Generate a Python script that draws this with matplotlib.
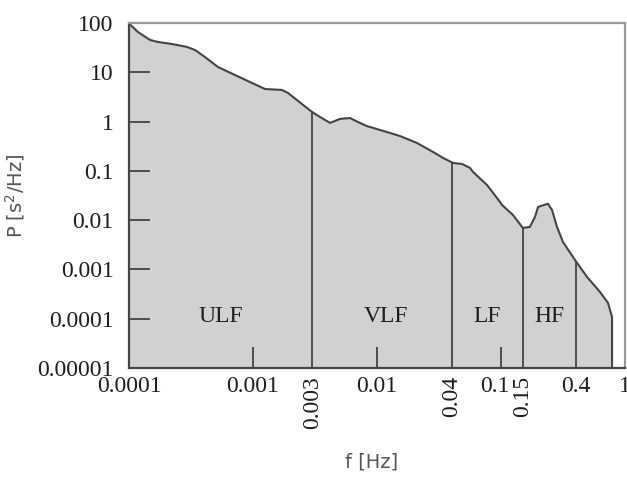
import numpy as np
import matplotlib.pyplot as plt
from matplotlib.transforms import ScaledTranslation

# spectrum (f in Hz, P in s^2/Hz)
freq = [1.0e-4, 1.18e-4, 1.48e-4, 1.71e-4, 2.22e-4, 2.94e-4, 3.41e-4, 4.10e-4,
        5.22e-4, 7.16e-4, 9.82e-4, 1.25e-3, 1.71e-3, 1.92e-3, 2.31e-3, 2.99e-3,
        3.47e-3, 4.18e-3, 5.03e-3, 6.05e-3, 7.03e-3, 8.30e-3, 1.20e-2, 1.53e-2,
        2.10e-2, 2.83e-2, 3.41e-2, 4.10e-2, 4.85e-2, 5.62e-2, 5.95e-2, 7.71e-2,
        9.82e-2, 0.102, 0.125, 0.150, 0.171, 0.188, 0.199, 0.218, 0.239, 0.258,
        0.283, 0.316, 0.395, 0.494, 0.628, 0.729, 0.786, 0.786]
power = [98, 65.7, 45.2, 41.2, 37.5, 32.6, 28.3, 20.4,
         12.8, 8.8, 6.07, 4.58, 4.38, 3.80, 2.62, 1.57,
         1.24, 0.94, 1.13, 1.18, 0.98, 0.81, 0.615, 0.51,
         0.368, 0.242, 0.183, 0.145, 0.138, 0.115, 0.095, 0.0518,
         0.0234, 0.0203, 0.0127, 0.00695, 0.00728, 0.0116, 0.0185, 0.0200, 0.0215, 0.0161,
         0.00728, 0.00361, 0.00156, 0.000705, 0.00035, 0.00021, 0.000109, 1e-5]

band_edges = [0.003, 0.04, 0.15, 0.4]
band_names = ["ULF", "VLF", "LF", "HF"]
band_label_f = [5.5e-4, 0.0118, 0.0771, 0.244]

yticks = [1e-5, 1e-4, 1e-3, 1e-2, 1e-1, 1, 10, 100]
ytick_labels = ["0.00001", "0.0001", "0.001", "0.01", "0.1", "1", "10", "100"]
xticks = [1e-4, 1e-3, 3e-3, 1e-2, 4e-2, 1e-1, 0.15, 0.4, 1]
xtick_labels = ["0.0001", "0.001", "0.003", "0.01", "0.04", "0.1", "0.15", "0.4", "1"]
rotated = [0.003, 0.04, 0.15]
with_mark = [1e-3, 1e-2, 1e-1]

serif = "Liberation Serif"
dark = "#444444"
txt = "#1e1e1e"

fig = plt.figure(figsize=(6.27, 4.78), dpi=100)
ax = fig.add_axes([0.2057, 0.2301, 0.7911, 0.7218])

ax.fill_between(freq, power, 1e-5, color="#d0d1d3", lw=0)
ax.plot(freq, power, color=dark, lw=1.5)

for fe in band_edges:
    pe = 10 ** np.interp(np.log10(fe), np.log10(freq[:-1]), np.log10(power[:-1]))
    ax.vlines(fe, 1e-5, pe, color=dark, lw=1.3)

for name, fx in zip(band_names, band_label_f):
    ax.text(fx, 1.1e-4, name, ha="center", va="center", family=serif,
            fontsize=17, color=txt)

ax.set_xscale("log")
ax.set_yscale("log")
ax.set_xlim(1e-4, 1)
ax.set_ylim(1e-5, 100)
ax.minorticks_off()

ax.set_yticks(yticks)
ax.set_yticklabels(ytick_labels, family=serif, fontsize=17, color=txt)
ax.tick_params(axis="y", direction="in", length=15, width=1.3, color=dark, pad=11)

ax.set_xticks(xticks)
ax.set_xticklabels(xtick_labels, family=serif, fontsize=17, color=txt)
ax.tick_params(axis="x", direction="in", length=15, width=1.3, color=dark, pad=6)
for val, tick in zip(xticks, ax.xaxis.get_major_ticks()):
    if val not in with_mark:
        tick.tick1line.set_visible(False)
    if val in rotated:
        tick.label1.set_rotation(90)
        tick.label1.set_va("top")
    if val == 1e-1:
        # nudge "0.1" left so it clears the rotated "0.15"
        lab = tick.label1
        lab.set_transform(lab.get_transform() + ScaledTranslation(-6 / 100, 0, fig.dpi_scale_trans))

for side in ["left", "bottom"]:
    ax.spines[side].set_color(dark)
    ax.spines[side].set_linewidth(1.6)
for side in ["top", "right"]:
    ax.spines[side].set_color("#9a9a9a")
    ax.spines[side].set_linewidth(1.6)

ax.set_xlabel("f [Hz]", fontsize=14, color="#555555", family="DejaVu Sans")
ax.xaxis.set_label_coords(0.49, -0.245)
ax.set_ylabel("P [s$^2$/Hz]", fontsize=14, color="#555555", family="DejaVu Sans")
ax.yaxis.set_label_coords(-0.205, 0.50)

fig.savefig("out.png", dpi=100)
